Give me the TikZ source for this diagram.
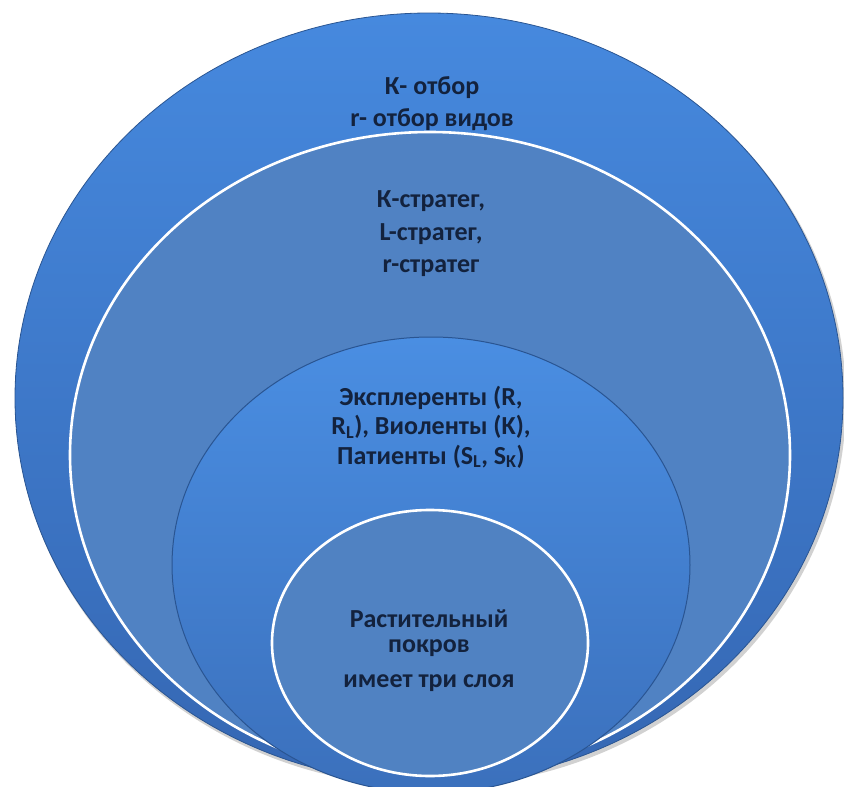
\documentclass[tikz,border=0pt]{standalone}
\usepackage{fontspec}
\setmainfont{Carlito}
\usetikzlibrary{shapes.geometric}
\definecolor{outerTop}{HTML}{4689DE}
\definecolor{outerBot}{HTML}{3567B3}
\definecolor{secondFill}{HTML}{5082C3}
\definecolor{thirdTop}{HTML}{4A8EE2}
\definecolor{thirdBot}{HTML}{3B70BC}
\definecolor{innerFill}{HTML}{5082C2}
\definecolor{txt}{HTML}{13223D}
\definecolor{edgeDark}{HTML}{2A5592}
\tikzset{
  lbl/.style={text=txt, font=\fontsize{26}{32}\selectfont\bfseries, align=center, inner sep=0pt},
  ring/.style={draw=white, line width=2.6pt}
}
\begin{document}
\begin{tikzpicture}[x=1pt,y=-1pt]
\useasboundingbox (0,0) rectangle (844,787);
\clip (0,0) rectangle (844,787);
% shadow of outer
\fill[black, opacity=0.18] (431,401) ellipse [x radius=415, y radius=386];
% outer layer
\path[top color=outerTop, bottom color=outerBot, draw=edgeDark, line width=0.8pt]
  (429,398) ellipse [x radius=414, y radius=385];
% second layer
\path[fill=secondFill, ring] (430,455) ellipse [x radius=360, y radius=323];
% third layer
\path[top color=thirdTop, bottom color=thirdBot, draw=edgeDark, line width=1pt]
  (431,565) ellipse [x radius=259, y radius=228];
\draw[white, opacity=0.45, line width=1.5pt] (431,565) ++(130:257) arc[start angle=130, end angle=50, x radius=257, y radius=226];
% inner layer
\path[fill=innerFill, ring] (430,643) ellipse [x radius=158, y radius=133];
% labels
\node[lbl] (t1) at (432,104) {К- отбор\\r- отбор видов};
\node[lbl, font=\fontsize{26}{32.5}\selectfont\bfseries] (t2) at (431,234) {К-стратег,\\L-стратег,\\r-стратег};
\node[lbl, font=\fontsize{26}{29.5}\selectfont\bfseries] (t3) at (431,427) {Эксплеренты (R,\\R\textsubscript{L}), Виоленты (K),\\Патиенты (S\textsubscript{L}, S\textsubscript{K})};
\node[lbl, font=\fontsize{26}{25.5}\selectfont\bfseries] (t4a) at (429,633) {Растительный\\покров};
\node[lbl] (t4b) at (429,683) {имеет три слоя};
\end{tikzpicture}
\end{document}
